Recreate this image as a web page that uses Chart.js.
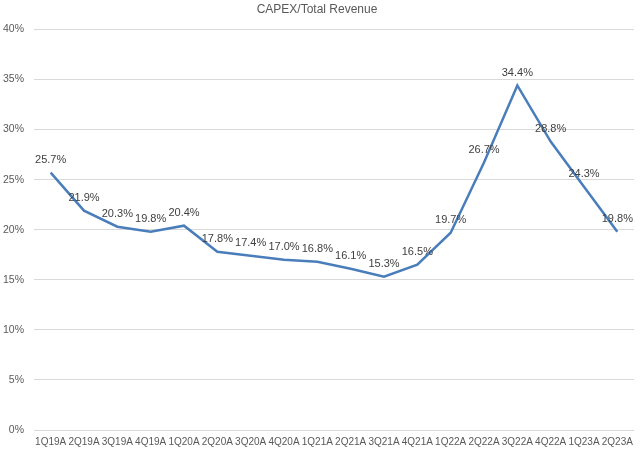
<!DOCTYPE html>
<html><head><meta charset="utf-8">
<script src="https://cdn.jsdelivr.net/npm/chart.js@4/dist/chart.umd.min.js"></script>
<style>html,body{margin:0;padding:0;background:#fff}#wrap{width:640px;height:454px}</style>
</head><body><div id="wrap"><canvas id="c" width="640" height="454"></canvas></div>
<script>
const categories = ["1Q19A","2Q19A","3Q19A","4Q19A","1Q20A","2Q20A","3Q20A","4Q20A","1Q21A","2Q21A","3Q21A","4Q21A","1Q22A","2Q22A","3Q22A","4Q22A","1Q23A","2Q23A"];
const capexRatio = [25.7,21.9,20.3,19.8,20.4,17.8,17.4,17.0,16.8,16.1,15.3,16.5,19.7,26.7,34.4,28.8,24.3,19.8];
const yTicks = [0,5,10,15,20,25,30,35,40];

const FONT = '"Liberation Sans", Arial, sans-serif';

const labelPlugin = {
  id: 'labels',
  afterDatasetsDraw(chart) {
    const ctx = chart.ctx;
    const meta = chart.getDatasetMeta(0);
    ctx.save();
    ctx.font = '11px ' + FONT;
    ctx.fillStyle = '#404040';
    ctx.textAlign = 'center';
    ctx.textBaseline = 'middle';
    meta.data.forEach((pt, i) => {
      ctx.fillText(capexRatio[i].toFixed(1) + '%', pt.x, pt.y - 13);
    });
    ctx.restore();
  }
};

new Chart(document.getElementById('c'), {
  type: 'line',
  data: {
    labels: categories,
    datasets: [{
      data: capexRatio,
      borderColor: '#4a7ebb',
      borderWidth: 2.5,
      pointRadius: 0,
      tension: 0,
      fill: false
    }]
  },
  options: {
    responsive: false,
    animation: false,
    layout: { padding: { left: 0, right: 6, top: 0, bottom: 0 } },
    plugins: {
      legend: { display: false },
      tooltip: { enabled: false },
      title: {
        display: true,
        text: 'CAPEX/Total Revenue',
        color: '#595959',
        font: { family: FONT, size: 12, weight: 'normal' },
        padding: { top: 2, bottom: 13 }
      }
    },
    scales: {
      x: {
        offset: true,
        grid: { display: false, drawTicks: false },
        border: { display: false },
        ticks: { color: '#595959', font: { family: FONT, size: 10 }, maxRotation: 0, autoSkip: false, padding: 6 }
      },
      y: {
        min: 0, max: 40,
        afterBuildTicks(axis) { axis.ticks = yTicks.map(v => ({ value: v })); },
        afterFit(axis) { axis.width = 34; },
        grid: { color: '#d9d9d9', drawTicks: false, lineWidth: 1 },
        border: { display: false },
        ticks: { color: '#595959', font: { family: FONT, size: 10.5 }, padding: 10, callback: v => v + '%' }
      }
    }
  },
  plugins: [labelPlugin]
});
</script>
</body></html>
